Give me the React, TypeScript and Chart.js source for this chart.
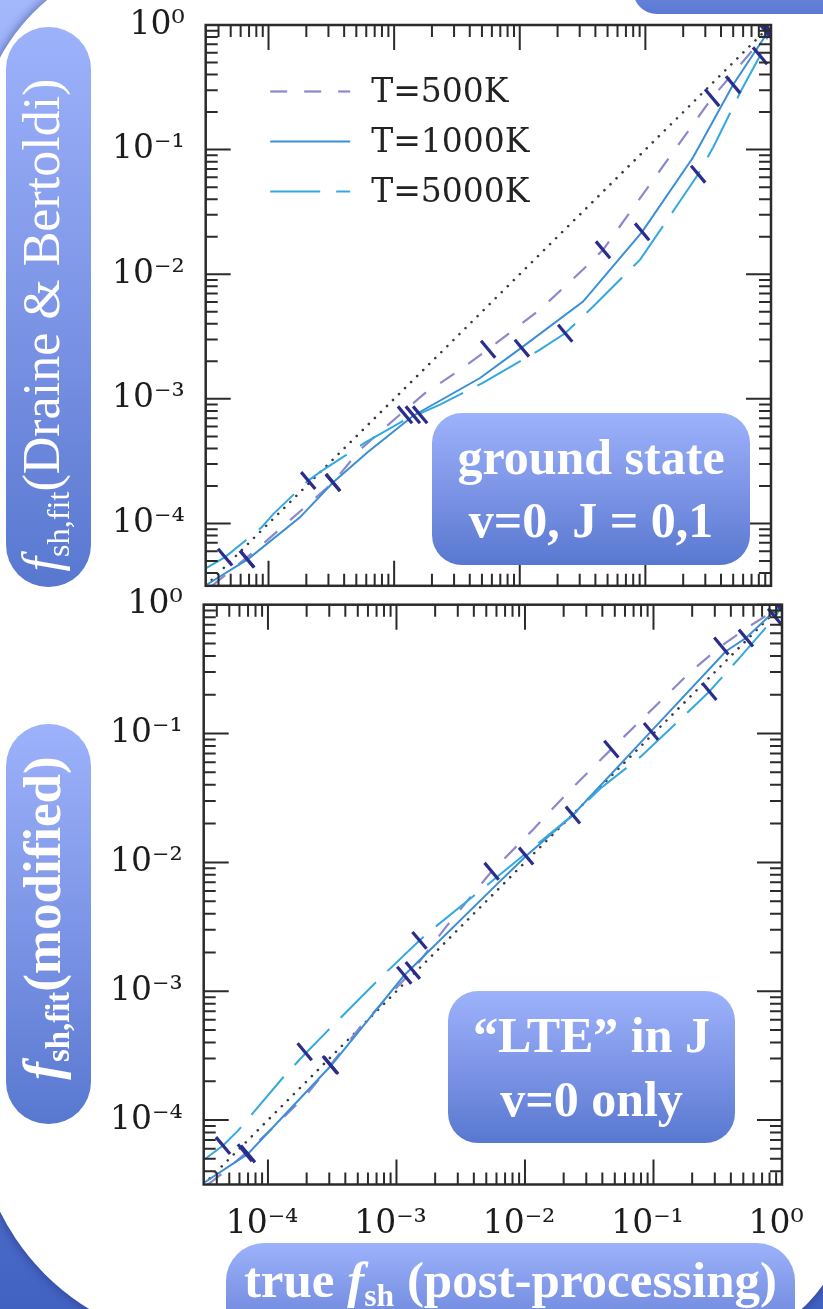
import React, { useEffect, useRef } from 'react';
import { Chart, registerables } from 'chart.js';

Chart.register(...registerables);

// ---------- axes ----------
const AXIS_MIN = 3.162e-5;
const AXIS_MAX = 1;
const DECADE_TICKS = [1e-4, 1e-3, 1e-2, 1e-1, 1];
const TICK_LABELS = ['10⁻⁴', '10⁻³', '10⁻²', '10⁻¹', '10⁰'];
const SERIES_LABELS = ['T=500K', 'T=1000K', 'T=5000K'];
const IDENTITY = [AXIS_MIN, AXIS_MAX];

// ---------- top panel (Draine & Bertoldi) ----------
const TOP_X_500 = [3.55e-5, 8.09e-5, 3.26e-4, 5.36e-4, 8.77e-4, 1.76e-3, 3.23e-3, 5.6e-3, 1.45e-2, 3.19e-2, 4.6e-2, 0.115, 0.34, 0.865, 0.955];
const TOP_Y_500 = [3.16e-5, 6.22e-5, 2.13e-4, 3.91e-4, 6.08e-4, 1.11e-3, 1.67e-3, 2.5e-3, 5.21e-3, 1.09e-2, 1.57e-2, 5.69e-2, 0.261, 0.787, 0.912];
const TOP_X_1000 = [3.24e-5, 6.87e-5, 1.78e-4, 3.26e-4, 6.08e-4, 1.41e-3, 4.83e-3, 1.04e-2, 3.19e-2, 9.42e-2, 0.24, 0.499, 0.955];
const TOP_Y_1000 = [3.24e-5, 5.18e-5, 1.12e-4, 2.13e-4, 3.7e-4, 7.29e-4, 1.47e-3, 2.59e-3, 6.04e-3, 2.19e-2, 8.69e-2, 0.332, 0.891];
const TOP_X_5000 = [3.16e-5, 4.51e-5, 8.83e-5, 1.09e-4, 2.07e-4, 2.65e-4, 5.86e-4, 1.18e-3, 2.32e-3, 5.04e-3, 1.44e-2, 2.3e-2, 3.84e-2, 9.08e-2, 0.182, 0.263, 0.346, 0.586, 0.818, 0.966];
const TOP_Y_5000 = [4.37e-5, 5.37e-5, 9.33e-5, 1.19e-4, 2.21e-4, 2.64e-4, 4.45e-4, 6.67e-4, 8.99e-4, 1.34e-3, 2.47e-3, 3.36e-3, 5.51e-3, 1.31e-2, 3.66e-2, 6.35e-2, 0.104, 0.305, 0.566, 0.871];
const TOP_MX_500 = [6.75e-5, 3.26e-4, 1.61e-3, 5.6e-3, 4.6e-2, 0.34, 0.931];
const TOP_MY_500 = [5.18e-5, 2.13e-4, 7.45e-4, 2.5e-3, 1.57e-2, 0.261, 0.863];
const TOP_MX_1000 = [6.75e-5, 3.26e-4, 1.41e-3, 1.04e-2, 9.42e-2, 0.499, 0.948];
const TOP_MY_1000 = [5.18e-5, 2.13e-4, 7.45e-4, 2.55e-3, 2.19e-2, 0.332, 0.895];
const TOP_MX_5000 = [4.51e-5, 2.07e-4, 1.22e-3, 2.3e-2, 0.263, 0.818, 0.977];
const TOP_MY_5000 = [5.37e-5, 2.21e-4, 7.45e-4, 3.36e-3, 6.35e-2, 0.566, 0.912];

// ---------- bottom panel (modified) ----------
const BOT_X_500 = [3.41e-5, 4.47e-5, 6.62e-5, 1.12e-4, 2.0e-4, 3.03e-4, 5.01e-4, 7.94e-4, 1.34e-3, 2.43e-3, 3.98e-3, 5.5e-3, 1.12e-2, 2.24e-2, 4.7e-2, 0.1, 0.1995, 0.337, 0.556, 0.955];
const BOT_Y_500 = [3.16e-5, 3.89e-5, 5.5e-5, 8.91e-5, 1.58e-4, 2.63e-4, 5.01e-4, 8.32e-4, 1.45e-3, 3.16e-3, 5.75e-3, 8.51e-3, 1.74e-2, 3.63e-2, 7.57e-2, 0.158, 0.309, 0.478, 0.679, 0.955];
const BOT_X_1000 = [3.22e-5, 6.98e-5, 3.1e-4, 1.15e-3, 6.12e-3, 1.02e-2, 2.36e-2, 9.57e-2, 0.366, 0.524, 0.843, 0.955];
const BOT_Y_1000 = [3.29e-5, 5.46e-5, 2.65e-4, 1.33e-3, 6.84e-3, 1.12e-2, 2.33e-2, 0.104, 0.435, 0.551, 0.863, 0.955];
const BOT_X_5000 = [3.16e-5, 4.47e-5, 5.85e-5, 1.31e-4, 1.93e-4, 2.92e-4, 7.38e-4, 1.51e-3, 1.85e-3, 4.68e-3, 2.36e-2, 3.86e-2, 7.91e-2, 0.1995, 0.272, 0.465, 0.885, 0.977];
const BOT_Y_5000 = [4.9e-5, 6.34e-5, 8.28e-5, 2.14e-4, 3.24e-4, 4.95e-4, 1.25e-3, 2.48e-3, 2.96e-3, 6.25e-3, 2.33e-2, 3.74e-2, 6.59e-2, 0.157, 0.212, 0.385, 0.802, 0.955];
const BOT_MX_500 = [6.62e-5, 3.03e-4, 1.34e-3, 5.5e-3, 4.7e-2, 0.337, 0.955];
const BOT_MY_500 = [5.58e-5, 2.7e-4, 1.45e-3, 8.53e-3, 7.57e-2, 0.478, 0.955];
const BOT_MX_1000 = [6.98e-5, 3.1e-4, 1.15e-3, 1.02e-2, 9.57e-2, 0.524, 0.955];
const BOT_MY_1000 = [5.46e-5, 2.65e-4, 1.33e-3, 1.12e-2, 0.104, 0.551, 0.955];
const BOT_MX_5000 = [4.47e-5, 1.93e-4, 1.51e-3, 2.36e-2, 0.272, 0.885, 0.977];
const BOT_MY_5000 = [6.34e-5, 3.39e-4, 2.48e-3, 2.33e-2, 0.212, 0.802, 0.955];

// ---------- styles ----------
const COLOR_500 = '#8c88cc';
const COLOR_1000 = '#3a8fd6';
const COLOR_5000 = '#34a9de';
const COLOR_MARK = '#2a2d8c';
const COLOR_ONE = '#3a3a3a';
const AXIS_COLOR = '#2b2b2b';
const PILL_GRAD = 'linear-gradient(180deg, #9db2fb 0%, #7d95e6 50%, #5878d0 100%)';

function pts(xs: number[], ys: number[]) {
  return xs.map((x, i) => ({ x, y: ys[i] }));
}

type Panel = {
  x500: number[]; y500: number[]; x1000: number[]; y1000: number[]; x5000: number[]; y5000: number[];
  mx500: number[]; my500: number[]; mx1000: number[]; my1000: number[]; mx5000: number[]; my5000: number[];
};

const TOP_PANEL: Panel = {
  x500: TOP_X_500, y500: TOP_Y_500, x1000: TOP_X_1000, y1000: TOP_Y_1000, x5000: TOP_X_5000, y5000: TOP_Y_5000,
  mx500: TOP_MX_500, my500: TOP_MY_500, mx1000: TOP_MX_1000, my1000: TOP_MY_1000, mx5000: TOP_MX_5000, my5000: TOP_MY_5000,
};
const BOT_PANEL: Panel = {
  x500: BOT_X_500, y500: BOT_Y_500, x1000: BOT_X_1000, y1000: BOT_Y_1000, x5000: BOT_X_5000, y5000: BOT_Y_5000,
  mx500: BOT_MX_500, my500: BOT_MY_500, mx1000: BOT_MX_1000, my1000: BOT_MY_1000, mx5000: BOT_MX_5000, my5000: BOT_MY_5000,
};

function markSet(label: string, xs: number[], ys: number[]) {
  return {
    label,
    data: pts(xs, ys),
    showLine: false,
    pointStyle: 'line',
    pointRadius: 11,
    pointHoverRadius: 11,
    pointRotation: 50,
    pointBorderColor: COLOR_MARK,
    pointBackgroundColor: COLOR_MARK,
    pointBorderWidth: 3.2,
    borderColor: COLOR_MARK,
    order: 0,
  };
}

function buildDatasets(p: Panel) {
  return [
    { label: SERIES_LABELS[0], inLegend: true, data: pts(p.x500, p.y500), borderColor: COLOR_500, borderWidth: 2.2, borderDash: [17, 17], pointRadius: 0, order: 3 },
    { label: SERIES_LABELS[1], inLegend: true, data: pts(p.x1000, p.y1000), borderColor: COLOR_1000, borderWidth: 2, borderDash: [], pointRadius: 0, order: 2 },
    { label: SERIES_LABELS[2], inLegend: true, data: pts(p.x5000, p.y5000), borderColor: COLOR_5000, borderWidth: 2, borderDash: [50, 16], pointRadius: 0, order: 1 },
    { label: '1:1', data: pts(IDENTITY, IDENTITY), borderColor: COLOR_ONE, borderWidth: 2.6, borderDash: [0.01, 8.5], borderCapStyle: 'round', pointRadius: 0, order: 4 },
    markSet('m500', p.mx500, p.my500),
    markSet('m1000', p.mx1000, p.my1000),
    markSet('m5000', p.mx5000, p.my5000),
  ];
}

const frameTicksPlugin = {
  id: 'frameTicks',
  afterDatasetsDraw(chart: any) {
    const { ctx, chartArea: a, scales } = chart;
    const xs = scales.x;
    const ys = scales.y;
    ctx.save();
    ctx.strokeStyle = AXIS_COLOR;
    ctx.lineWidth = 2;
    ctx.beginPath();
    for (let e = -5; e <= 0; e++) {
      for (let m = 1; m <= 9; m++) {
        const v = m * Math.pow(10, e);
        if (v < AXIS_MIN * 1.0001 || v > AXIS_MAX * 1.0001) continue;
        const len = m === 1 ? 25 : 12;
        const px = xs.getPixelForValue(v);
        ctx.moveTo(px, a.bottom); ctx.lineTo(px, a.bottom - len);
        ctx.moveTo(px, a.top); ctx.lineTo(px, a.top + len);
        const py = ys.getPixelForValue(v);
        ctx.moveTo(a.left, py); ctx.lineTo(a.left + len, py);
        ctx.moveTo(a.right, py); ctx.lineTo(a.right - len, py);
      }
    }
    ctx.stroke();
    ctx.lineWidth = 2.5;
    ctx.strokeRect(a.left, a.top, a.right - a.left, a.bottom - a.top);
    ctx.restore();
  },
};

const inlineLegendPlugin = {
  id: 'inlineLegend',
  afterDraw(chart: any, _args: any, opts: any) {
    if (!opts || !opts.show) return;
    const { ctx, chartArea: a } = chart;
    const items = chart.data.datasets.filter((d: any) => d.inLegend);
    ctx.save();
    ctx.font = `${opts.fontSize}px "DejaVu Serif"`;
    ctx.textBaseline = 'alphabetic';
    ctx.fillStyle = '#222';
    items.forEach((d: any, i: number) => {
      const baseY = a.top + opts.firstBaseline + i * opts.rowGap;
      const lineY = baseY - opts.lineRaise;
      ctx.strokeStyle = d.borderColor;
      ctx.lineWidth = d.borderWidth;
      ctx.setLineDash(d.borderDash || []);
      ctx.beginPath();
      ctx.moveTo(a.left + opts.lineStart, lineY);
      ctx.lineTo(a.left + opts.lineStart + opts.lineLength, lineY);
      ctx.stroke();
      ctx.setLineDash([]);
      ctx.fillText(d.label, a.left + opts.textStart, baseY);
    });
    ctx.restore();
  },
};

function scaleCfg(axis: 'x' | 'y', showLabels: boolean, size: number, pad: number, labelOffset: number) {
  return {
    type: 'logarithmic',
    min: AXIS_MIN,
    max: AXIS_MAX,
    position: axis === 'x' ? 'bottom' : 'left',
    grid: { display: false, drawTicks: false },
    border: { display: false },
    ticks: {
      display: showLabels,
      autoSkip: false,
      maxRotation: 0,
      minRotation: 0,
      padding: pad,
      labelOffset,
      font: { family: '"DejaVu Serif"', size: 33 },
      color: '#1c1c1c',
      callback: (v: number) => {
        const i = DECADE_TICKS.findIndex((d) => Math.abs(d - v) / d < 1e-6);
        return i >= 0 ? TICK_LABELS[i] : '';
      },
    },
    afterBuildTicks: (s: any) => {
      s.ticks = DECADE_TICKS.map((v) => ({ value: v, major: true }));
    },
    afterFit: (s: any) => {
      if (axis === 'x') s.height = size; else s.width = size;
      s.paddingTop = 0; s.paddingBottom = 0; s.paddingLeft = 0; s.paddingRight = 0;
    },
  };
}

function makeConfig(panel: Panel, o: { top: number; right: number; yWidth: number; xHeight: number; showX: boolean; legend: boolean }) {
  return {
    type: 'line',
    data: { datasets: buildDatasets(panel) },
    options: {
      animation: false,
      responsive: false,
      maintainAspectRatio: false,
      devicePixelRatio: 1,
      layout: { padding: { left: 0, top: o.top, right: o.right, bottom: 0 } },
      events: [],
      plugins: {
        legend: { display: false },
        tooltip: { enabled: false },
        inlineLegend: { show: o.legend, fontSize: 33, firstBaseline: 76.5, rowGap: 50, lineRaise: 10, lineStart: 64.5, lineLength: 80, textStart: 165.5 },
      },
      scales: {
        x: scaleCfg('x', o.showX, o.xHeight, 20, -6),
        y: scaleCfg('y', true, o.yWidth, 21, 0),
      },
    },
    plugins: [frameTicksPlugin, inlineLegendPlugin],
  } as any;
}

const serif = '"Liberation Serif", "Times New Roman", serif';

export default function App() {
  const topRef = useRef<HTMLCanvasElement>(null);
  const botRef = useRef<HTMLCanvasElement>(null);

  useEffect(() => {
    const c1 = new Chart(topRef.current as HTMLCanvasElement, makeConfig(TOP_PANEL, { top: 25, right: 52, yWidth: 205.7, xHeight: 11, showX: false, legend: true }));
    const c2 = new Chart(botRef.current as HTMLCanvasElement, makeConfig(BOT_PANEL, { top: 29.7, right: 41, yWidth: 203.7, xHeight: 124.5, showX: true, legend: false }));
    return () => {
      c1.destroy();
      c2.destroy();
    };
  }, []);

  const pillText: React.CSSProperties = { color: '#fff', fontFamily: serif, whiteSpace: 'nowrap' };
  const sub: React.CSSProperties = { fontSize: '0.62em', verticalAlign: '-0.28em' };

  return (
    <div style={{ position: 'absolute', left: 0, top: 0, width: 823, height: 1309, overflow: 'hidden', background: 'linear-gradient(180deg, #a3b7fb 0%, #7590e2 55%, #4262c2 100%)' }}>
      <div style={{ position: 'absolute', left: -24, top: -46, width: 871, height: 1389, background: '#ffffff', borderRadius: '198px 135px 135px 235px', boxShadow: '0 0 9px 2px rgba(30,40,110,0.45)' }} />
      <div style={{ position: 'absolute', left: 633, top: -40, width: 230, height: 54, borderRadius: 24, background: 'linear-gradient(180deg, #7f98ea 0%, #5a79d2 100%)' }} />

      <canvas ref={topRef} width={823} height={600} style={{ position: 'absolute', left: 0, top: 0 }} />
      <canvas ref={botRef} width={823} height={734} style={{ position: 'absolute', left: 0, top: 575 }} />

      {/* y title pills */}
      <div style={{ position: 'absolute', left: 6, top: 27, width: 85, height: 560, borderRadius: 42, background: PILL_GRAD }} />
      <div style={{ ...pillText, position: 'absolute', left: 50, top: 325, fontSize: 52, lineHeight: '60px', transform: 'translate(-50%, -50%) rotate(-90deg)' }}>
        <i>f</i><span style={sub}>sh,fit</span>(Draine &amp; Bertoldi)
      </div>
      <div style={{ position: 'absolute', left: 6, top: 724, width: 85, height: 400, borderRadius: 42, background: PILL_GRAD }} />
      <div style={{ ...pillText, position: 'absolute', left: 50, top: 918, fontSize: 53, fontWeight: 'bold', lineHeight: '60px', transform: 'translate(-50%, -50%) rotate(-90deg)' }}>
        <i>f</i><span style={sub}>sh,fit</span>(modified)
      </div>

      {/* annotation boxes */}
      <div style={{ ...pillText, position: 'absolute', left: 432, top: 413, width: 318, height: 152, borderRadius: 30, background: PILL_GRAD, display: 'flex', flexDirection: 'column', alignItems: 'center', justifyContent: 'center', fontSize: 50, fontWeight: 'bold', lineHeight: '63px' }}>
        <div>ground state</div>
        <div>v=0, J = 0,1</div>
      </div>
      <div style={{ ...pillText, position: 'absolute', left: 448, top: 991, width: 287, height: 152, borderRadius: 30, background: PILL_GRAD, display: 'flex', flexDirection: 'column', alignItems: 'center', justifyContent: 'center', fontSize: 50, fontWeight: 'bold', lineHeight: '64px' }}>
        <div>“LTE” in J</div>
        <div>v=0 only</div>
      </div>

      {/* x title pill */}
      <div style={{ position: 'absolute', left: 226, top: 1243, width: 569, height: 110, borderRadius: 38, background: PILL_GRAD }} />
      <div style={{ ...pillText, position: 'absolute', left: 226, top: 1250, width: 569, textAlign: 'center', fontSize: 51, fontWeight: 'bold', lineHeight: '60px' }}>
        true <i>f</i><span style={sub}>sh</span> (post-processing)
      </div>
    </div>
  );
}
